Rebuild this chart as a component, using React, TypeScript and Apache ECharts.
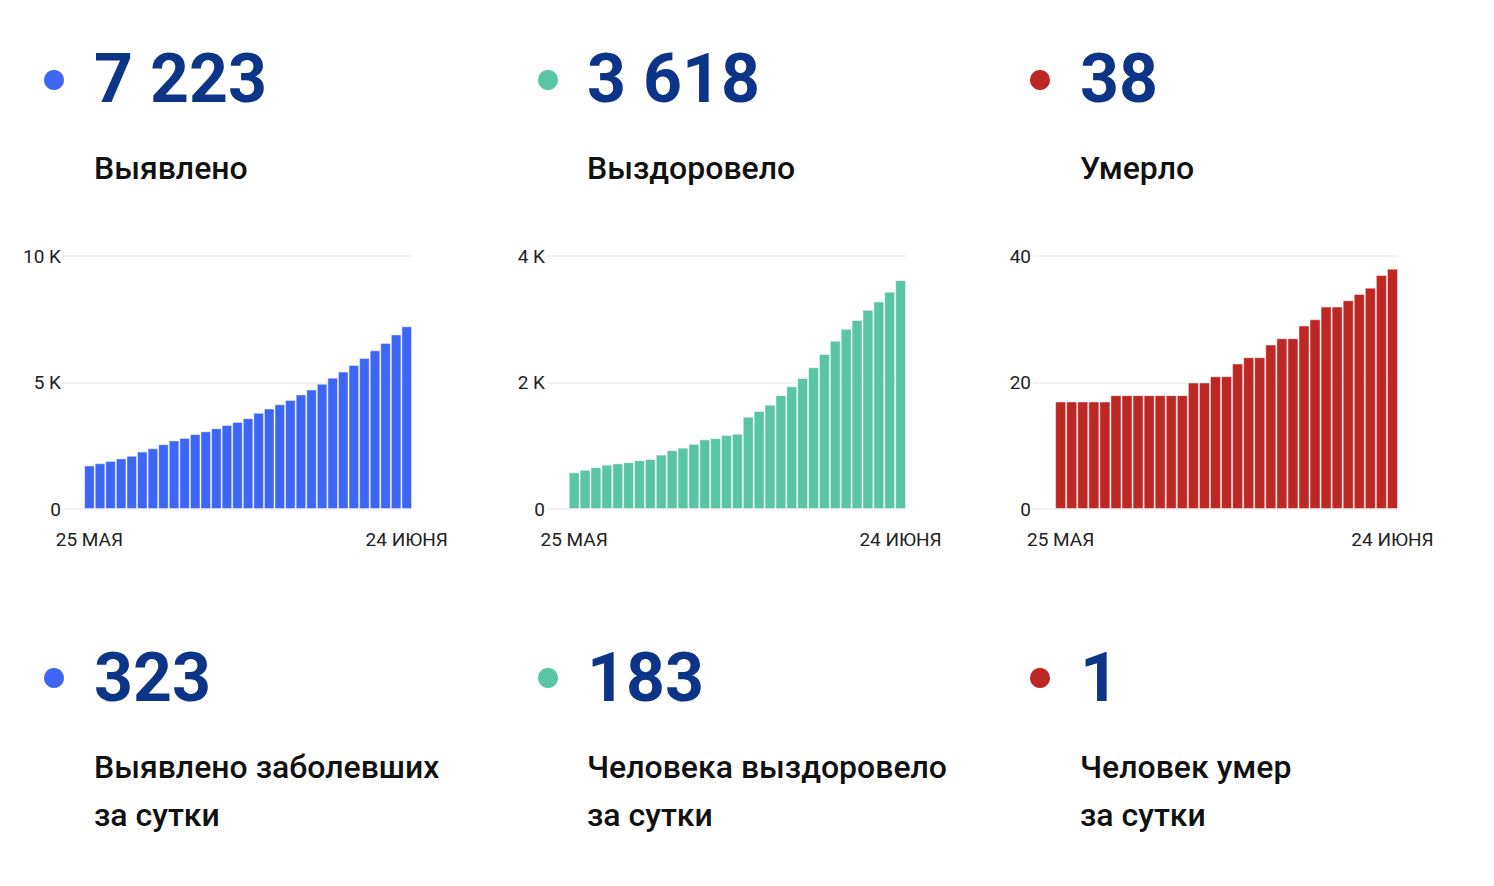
import { useEffect, useRef } from 'react';
import * as echarts from 'echarts';

// 25 May .. 24 June, one bar per day
const dates = [
  '25 МАЯ', '26 МАЯ', '27 МАЯ', '28 МАЯ', '29 МАЯ', '30 МАЯ', '31 МАЯ',
  '1 ИЮНЯ', '2 ИЮНЯ', '3 ИЮНЯ', '4 ИЮНЯ', '5 ИЮНЯ', '6 ИЮНЯ', '7 ИЮНЯ',
  '8 ИЮНЯ', '9 ИЮНЯ', '10 ИЮНЯ', '11 ИЮНЯ', '12 ИЮНЯ', '13 ИЮНЯ', '14 ИЮНЯ',
  '15 ИЮНЯ', '16 ИЮНЯ', '17 ИЮНЯ', '18 ИЮНЯ', '19 ИЮНЯ', '20 ИЮНЯ', '21 ИЮНЯ',
  '22 ИЮНЯ', '23 ИЮНЯ', '24 ИЮНЯ',
];

const detected = [
  1720, 1810, 1900, 2000, 2100, 2270, 2400, 2560, 2710, 2810, 2960, 3070,
  3190, 3320, 3440, 3590, 3800, 3970, 4140, 4310, 4530, 4720, 4950, 5190,
  5430, 5690, 5970, 6270, 6560, 6900, 7223,
];

const recovered = [
  580, 620, 660, 700, 720, 740, 770, 790, 860, 930, 970, 1030, 1100, 1120,
  1170, 1190, 1460, 1550, 1650, 1800, 1940, 2070, 2240, 2450, 2660, 2850,
  2990, 3150, 3280, 3435, 3618,
];

const deaths = [
  17, 17, 17, 17, 17, 18, 18, 18, 18, 18, 18, 18, 20, 20, 21, 21, 23, 24, 24,
  26, 27, 27, 29, 30, 32, 32, 33, 34, 35, 37, 38,
];

const totals = ['7 223', '3 618', '38'];
const totalLabels = ['Выявлено', 'Выздоровело', 'Умерло'];
const daily = ['323', '183', '1'];
const dailyLabels = [
  ['Выявлено заболевших', 'за сутки'],
  ['Человека выздоровело', 'за сутки'],
  ['Человек умер', 'за сутки'],
];
const yMax = [10000, 4000, 40];
const yStep = [5000, 2000, 20];

const COLORS = ['#3d66f4', '#59c5a5', '#be2824'];
const NUM_COLOR = '#0c3487';
const FONT = 'Roboto, "Noto Sans", sans-serif';

// column geometry
const DOT_X = [54, 548, 1040];
const TEXT_X = [94, 587, 1080];
const GRID_L = [63, 547, 1033];
const GRID_R = [412, 906, 1398];

// two empty slots before the first day leave the gap seen left of the bars
const PAD = 2;
const xCats = [...Array(PAD).fill(''), ...dates];

export default function App() {
  const ref = useRef<HTMLDivElement | null>(null);

  useEffect(() => {
    if (!ref.current) return;
    const chart = echarts.init(ref.current, null, { renderer: 'svg' });
    const series = [detected, recovered, deaths];

    const graphic: any[] = [];
    for (let i = 0; i < 3; i++) {
      graphic.push(
        { type: 'circle', shape: { cx: DOT_X[i], cy: 80, r: 10 }, style: { fill: COLORS[i] } },
        {
          type: 'text', x: TEXT_X[i], y: 79,
          style: { text: totals[i], fill: NUM_COLOR, font: `bold 68px ${FONT}`, textAlign: 'left', textVerticalAlign: 'middle' },
        },
        {
          type: 'text', x: TEXT_X[i], y: 168,
          style: { text: totalLabels[i], fill: '#111', font: `500 32px ${FONT}`, textAlign: 'left', textVerticalAlign: 'middle' },
        },
        { type: 'circle', shape: { cx: DOT_X[i], cy: 678, r: 10 }, style: { fill: COLORS[i] } },
        {
          type: 'text', x: TEXT_X[i], y: 678,
          style: { text: daily[i], fill: NUM_COLOR, font: `bold 68px ${FONT}`, textAlign: 'left', textVerticalAlign: 'middle' },
        },
        ...dailyLabels[i].map((line, k) => ({
          type: 'text', x: TEXT_X[i], y: 767 + k * 48,
          style: { text: line, fill: '#111', font: `500 32px ${FONT}`, textAlign: 'left', textVerticalAlign: 'middle' },
        })),
      );
    }

    const last = xCats.length - 1;
    chart.setOption({
      animation: false,
      graphic,
      grid: [0, 1, 2].map((i) => ({
        left: GRID_L[i],
        width: GRID_R[i] - GRID_L[i],
        top: 256,
        height: 253,
      })),
      xAxis: [0, 1, 2].map((i) => ({
        type: 'category',
        gridIndex: i,
        data: xCats,
        axisLine: { show: false },
        axisTick: { show: false },
        axisLabel: {
          interval: (idx: number) => idx === PAD || idx === last,
          margin: 21,
          color: '#222',
          fontSize: 19,
          fontFamily: FONT,
          hideOverlap: false,
        },
      })),
      yAxis: [0, 1, 2].map((i) => ({
        type: 'value',
        gridIndex: i,
        min: 0,
        max: yMax[i],
        interval: yStep[i],
        axisLine: { show: false },
        axisTick: { show: false },
        splitLine: { lineStyle: { color: '#eeeeee', width: 1.5 } },
        axisLabel: {
          margin: 2,
          color: '#222',
          fontSize: 19,
          fontFamily: FONT,
          formatter: (v: number) => (yMax[i] >= 1000 && v > 0 ? `${v / 1000} K` : `${v}`),
        },
      })),
      series: series.map((vals, i) => ({
        type: 'bar',
        xAxisIndex: i,
        yAxisIndex: i,
        barCategoryGap: '0%',
        data: [...Array(PAD).fill('-'), ...vals],
        itemStyle: {
          color: COLORS[i],
          borderColor: 'rgba(255,255,255,0.45)',
          borderWidth: 1,
        },
      })),
    });

    return () => chart.dispose();
  }, []);

  return (
    <div
      ref={ref}
      style={{ position: 'fixed', left: 0, top: 0, width: 1494, height: 886, background: '#fff' }}
    />
  );
}
